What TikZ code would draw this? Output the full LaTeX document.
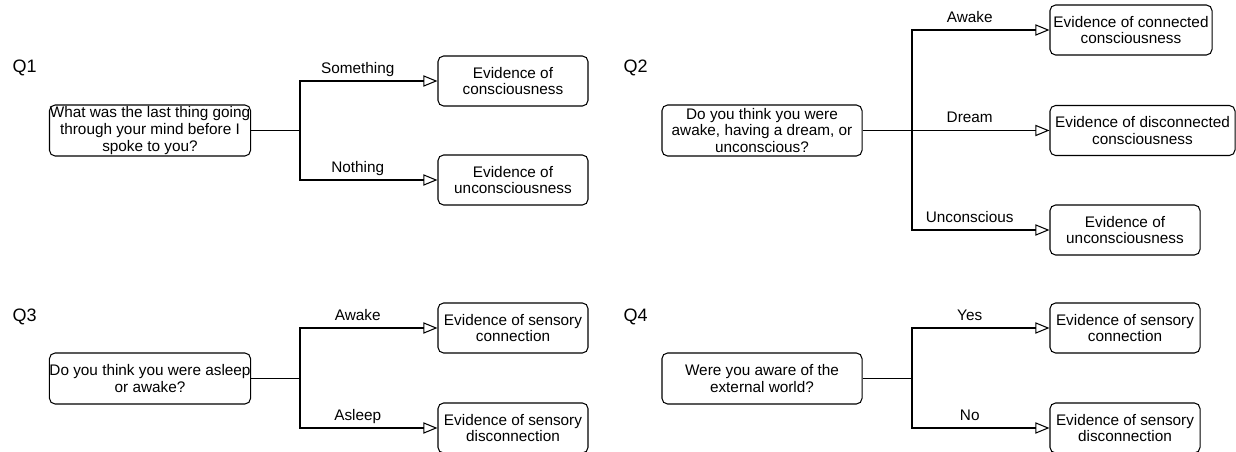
\documentclass[tikz,border=0pt]{standalone}
\usepackage{fontspec}
\setmainfont{Liberation Sans}
\usetikzlibrary{arrows.meta}

\tikzset{
  qbox/.style={draw, rounded corners=4pt, align=center, inner sep=0pt,
    minimum width=5.025cm, minimum height=1.275cm,
    font=\fontsize{10.9}{12}\selectfont},
  ebox/.style={draw, rounded corners=4pt, align=center, inner sep=0pt,
    minimum width=3.75cm, minimum height=1.25cm,
    font=\fontsize{10.9}{12}\selectfont},
  qlabel/.style={anchor=west, inner sep=0pt, font=\fontsize{12.8}{14}\selectfont},
  branch/.style={-{Triangle[open,length=10pt,width=8pt]}},
  lbl/.style={pos=0.71, anchor=base, yshift=5.5pt, inner sep=0pt,
    font=\fontsize{10.9}{12}\selectfont}
}

\begin{document}
\begin{tikzpicture}[x=0.025cm, y=-0.025cm, line width=0.75pt]
\useasboundingbox (0,0) rectangle (1236,452);

% Q1
\node[qlabel] (t1) at (12,68) {Q1};
\node[qbox] (q1) at (150,130.5) {What was the last thing going\\through your mind before I\\spoke to you?};
\coordinate (j1) at (300,130.5);
\node[ebox] (r1a) at (513,81) {Evidence of\\consciousness};
\node[ebox] (r1b) at (513,180) {Evidence of\\unconsciousness};
\draw (q1.east) -- (j1);
\draw[branch] (j1) |- (r1a.west) node[lbl] {Something};
\draw[branch] (j1) |- (r1b.west) node[lbl] {Nothing};

% Q2
\node[qlabel] (t2) at (623,68) {Q2};
\node[qbox, minimum width=5cm] (q2) at (762,130.5) {Do you think you were\\awake, having a dream, or\\unconscious?};
\coordinate (j2) at (912,130.5);
\node[ebox, minimum width=4.05cm] (r2a) at (1131,30) {Evidence of connected\\consciousness};
\node[ebox, minimum width=4.625cm] (r2b) at (1142.5,130.5) {Evidence of disconnected\\consciousness};
\node[ebox] (r2c) at (1125,230) {Evidence of\\unconsciousness};
\draw (q2.east) -- (j2);
\draw[branch] (j2) |- (r2a.west) node[lbl] {Awake};
\draw[branch] (j2) |- (r2b.west) node[lbl] {Dream};
\draw[branch] (j2) |- (r2c.west) node[lbl] {Unconscious};

% Q3
\node[qlabel] (t3) at (12,317) {Q3};
\node[qbox] (q3) at (150,378.5) {Do you think you were asleep\\or awake?};
\coordinate (j3) at (300,378.5);
\node[ebox] (r3a) at (513,328) {Evidence of sensory\\connection};
\node[ebox] (r3b) at (513,428) {Evidence of sensory\\disconnection};
\draw (q3.east) -- (j3);
\draw[branch] (j3) |- (r3a.west) node[lbl] {Awake};
\draw[branch] (j3) |- (r3b.west) node[lbl] {Asleep};

% Q4
\node[qlabel] (t4) at (623,317) {Q4};
\node[qbox, minimum width=5cm] (q4) at (762,378.5) {Were you aware of the\\external world?};
\coordinate (j4) at (912,378.5);
\node[ebox] (r4a) at (1125,328) {Evidence of sensory\\connection};
\node[ebox] (r4b) at (1125,428) {Evidence of sensory\\disconnection};
\draw (q4.east) -- (j4);
\draw[branch] (j4) |- (r4a.west) node[lbl] {Yes};
\draw[branch] (j4) |- (r4b.west) node[lbl] {No};
\end{tikzpicture}
\end{document}
